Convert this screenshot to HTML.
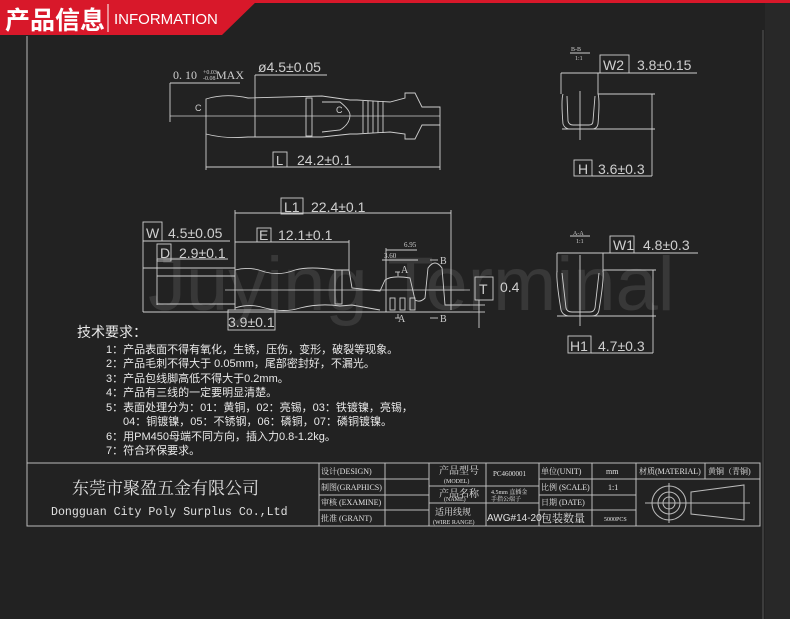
<!DOCTYPE html>
<html><head><meta charset="utf-8"><style>
html,body{margin:0;padding:0;background:#222;}
svg{display:block}
text{font-family:"Liberation Sans","Noto Sans CJK SC",sans-serif;}
.s{font-family:"Liberation Serif","Noto Serif CJK SC",serif;}
.m{font-family:"Liberation Mono","Noto Sans CJK SC",monospace;}
</style></head><body>
<svg width="790" height="619" viewBox="0 0 790 619" xmlns="http://www.w3.org/2000/svg">
<rect width="790" height="619" fill="#222"/>
<rect x="765" y="0" width="25" height="619" fill="#282828"/>
<rect x="0" y="0" width="790" height="3" fill="#d8182a"/>
<polygon points="0,0 258,0 222,35 0,35" fill="#d8182a"/>
<line x1="108" y1="4" x2="108" y2="32" stroke="#fff" stroke-width="1"/>
<text x="5" y="29" font-size="25" font-weight="bold" fill="#fff">产品信息</text>
<text x="114" y="24" font-size="15" fill="#fff">INFORMATION</text>
<g stroke="#bbb" fill="none" stroke-width="1">
<line x1="27" y1="36" x2="27" y2="526"/>
<line x1="763" y1="30" x2="763" y2="619" stroke="#555"/>
</g>
<text x="148" y="310" font-size="76" fill="#fff" fill-opacity="0.1">Juying Terminal</text>

<g stroke="#cfcfcf" fill="none" stroke-width="0.9">
<line x1="170" y1="83" x2="240" y2="83"/>
<line x1="170" y1="83" x2="170" y2="122"/>
<line x1="170" y1="116" x2="440" y2="116" stroke-width="0.8"/>
<line x1="255" y1="75" x2="327" y2="75"/>
<line x1="255" y1="75" x2="255" y2="98"/>
<path d="M206,99 Q225,93 248,98 L322,96 L350,100 L357,100 L390,102 L405,98 L405,93 L415,93 L422,107 L440,107 L440,125 L422,125 L415,139 L405,139 L405,134 L390,132 L357,134 L350,134 L322,137 L248,137 Q225,139 206,134 Z"/>
<line x1="255" y1="98" x2="255" y2="137"/>
<rect x="306" y="98" width="6" height="38"/>
<path d="M322,102 L340,102 Q350,110 350,115 Q350,124 340,130 L322,132"/>
<line x1="363" y1="101" x2="363" y2="133"/><line x1="368" y1="101" x2="368" y2="133"/><line x1="373" y1="101" x2="373" y2="133"/><line x1="378" y1="101" x2="378" y2="133"/><line x1="383" y1="101" x2="383" y2="133"/>
<line x1="206" y1="134" x2="206" y2="170"/>
<line x1="440" y1="125" x2="440" y2="170"/>
<line x1="206" y1="167" x2="440" y2="167"/>
<rect x="273" y="152" width="14" height="15"/>

<line x1="235" y1="213" x2="451" y2="213"/>
<rect x="281" y="198" width="22" height="16"/>
<line x1="451" y1="210" x2="451" y2="310"/>
<line x1="235" y1="210" x2="235" y2="310"/>
<rect x="143" y="222" width="19" height="19"/>
<line x1="143" y1="241" x2="230" y2="241"/>
<rect x="257" y="228" width="14" height="14"/>
<line x1="235" y1="242" x2="349" y2="242"/>
<line x1="349" y1="240" x2="349" y2="270"/>
<rect x="157" y="244" width="14" height="17"/>
<line x1="157" y1="259" x2="228" y2="259"/>
<line x1="143" y1="268" x2="235" y2="268"/>
<line x1="157" y1="276" x2="235" y2="276"/>
<line x1="157" y1="304" x2="235" y2="304"/>
<line x1="143" y1="312" x2="470" y2="312"/>
<line x1="157" y1="259" x2="157" y2="305"/>
<line x1="143" y1="241" x2="143" y2="312"/>
<line x1="225" y1="290" x2="470" y2="290" stroke-width="0.8"/>
<path d="M235,270 Q250,266 265,272 Q280,276 295,270 Q310,266 335,270 L349,270 L352,288 L380,291 L385,280 Q392,275 410,278 L415,300 Q420,303 425,298 L428,268 Q435,258 442,268 L445,305 L470,305"/>
<path d="M235,308 Q250,303 265,308 Q285,313 300,308 Q320,303 340,306 L352,305 L380,310"/>
<rect x="335" y="270" width="7" height="34"/>
<rect x="390" y="298" width="5" height="12"/><rect x="400" y="298" width="5" height="12"/><rect x="410" y="298" width="5" height="12"/>
<line x1="386" y1="250" x2="417" y2="250"/><line x1="382" y1="260" x2="418" y2="260"/>
<line x1="386" y1="248" x2="386" y2="312"/>
<line x1="398" y1="272" x2="398" y2="276"/><line x1="395" y1="272" x2="400" y2="272"/>
<line x1="398" y1="314" x2="398" y2="318"/><line x1="395" y1="318" x2="400" y2="318"/>
<line x1="430" y1="260" x2="438" y2="260"/><line x1="430" y1="318" x2="438" y2="318"/>
<rect x="228" y="310" width="47" height="20"/>
<rect x="475" y="277" width="18" height="23"/>
<line x1="479" y1="300" x2="479" y2="328"/>
<line x1="470" y1="305" x2="485" y2="305"/><line x1="470" y1="312" x2="485" y2="312"/>

<line x1="570" y1="53" x2="590" y2="53"/>
<rect x="600" y="55" width="29" height="18"/>
<line x1="561" y1="73" x2="697" y2="73"/>
<line x1="561" y1="73" x2="561" y2="94"/><line x1="598" y1="73" x2="598" y2="94"/>
<path d="M563,94 Q561,100 563,124 Q565,129 570,129 L592,129 Q597,129 598,124 Q600,100 598,94"/>
<path d="M567,96 L568,121 Q569,125 573,125 L589,125 Q593,125 593,121 L595,96"/>
<line x1="580" y1="91" x2="580" y2="140"/>
<line x1="598" y1="94" x2="655" y2="94"/><line x1="562" y1="129" x2="655" y2="129"/>
<line x1="652" y1="94" x2="652" y2="176"/>
<rect x="574" y="160" width="18" height="16"/>
<line x1="592" y1="176" x2="652" y2="176"/>
<line x1="570" y1="236" x2="590" y2="236"/>
<rect x="610" y="236" width="24" height="17"/>
<line x1="557" y1="253" x2="698" y2="253"/>
<line x1="557" y1="253" x2="557" y2="272"/><line x1="603" y1="253" x2="603" y2="272"/>
<path d="M557,271 Q556,280 561,310 Q563,316 570,316 L592,316 Q598,316 599,310 Q604,280 603,271"/>
<path d="M562,273 L566,308 Q567,312 572,312 L590,312 Q594,312 595,308 L599,273"/>
<line x1="580" y1="255" x2="580" y2="326"/>
<line x1="603" y1="270" x2="656" y2="270"/><line x1="557" y1="316" x2="656" y2="316"/>
<line x1="653" y1="270" x2="653" y2="353"/>
<rect x="568" y="336" width="23" height="17"/>
<line x1="591" y1="353" x2="653" y2="353"/>
</g>

<g fill="#cfcfcf">
<text class="s" x="173" y="79" font-size="12">0. 10</text>
<text class="s" x="203" y="74" font-size="6">+0.03</text>
<text class="s" x="203" y="80" font-size="6">-0.08</text>
<text class="s" x="216" y="79" font-size="12">MAX</text>
<text x="195" y="111" font-size="9">C</text>
<text x="336" y="113" font-size="9">C</text>
<text x="258" y="72" font-size="14">ø4.5±0.05</text>
<text x="276" y="165" font-size="13">L</text>
<text x="297" y="165" font-size="14">24.2±0.1</text>
<text x="284" y="212" font-size="14">L1</text>
<text x="311" y="212" font-size="14">22.4±0.1</text>
<text x="146" y="238" font-size="14">W</text>
<text x="168" y="238" font-size="14">4.5±0.05</text>
<text x="259" y="240" font-size="14">E</text>
<text x="278" y="240" font-size="14">12.1±0.1</text>
<text x="160" y="258" font-size="14">D</text>
<text x="179" y="258" font-size="14">2.9±0.1</text>
<text x="228" y="327" font-size="14">3.9±0.1</text>
<text class="s" x="404" y="247" font-size="7">6.95</text>
<text class="s" x="384" y="258" font-size="7">3.60</text>
<text class="s" x="401" y="273" font-size="10">A</text>
<text class="s" x="398" y="322" font-size="10">A</text>
<text class="s" x="440" y="264" font-size="10">B</text>
<text class="s" x="440" y="322" font-size="10">B</text>
<text x="479" y="294" font-size="14">T</text>
<text x="500" y="292" font-size="14">0.4</text>
<text class="s" x="571" y="51" font-size="6">B-B</text>
<text class="s" x="575" y="60" font-size="6">1:1</text>
<text x="603" y="70" font-size="14">W2</text>
<text x="637" y="70" font-size="14">3.8±0.15</text>
<text x="578" y="174" font-size="14">H</text>
<text x="598" y="174" font-size="14">3.6±0.3</text>
<text class="s" x="573" y="235" font-size="6">A-A</text>
<text class="s" x="576" y="243" font-size="6">1:1</text>
<text x="613" y="250" font-size="14">W1</text>
<text x="643" y="250" font-size="14">4.8±0.3</text>
<text x="570" y="351" font-size="14">H1</text>
<text x="598" y="351" font-size="14">4.7±0.3</text>
</g>

<g fill="#e8e8e8" font-size="11">
<text x="77" y="337" font-size="14">技术要求：</text>
<text x="106" y="353">1：产品表面不得有氧化，生锈，压伤，变形，破裂等现象。</text>
<text x="106" y="367">2：产品毛刺不得大于 0.05mm，尾部密封好，不漏光。</text>
<text x="106" y="382">3：产品包线脚高低不得大于0.2mm。</text>
<text x="106" y="396">4：产品有三线的一定要明显清楚。</text>
<text x="106" y="411">5：表面处理分为：01：黄铜，02：亮锡，03：铁镀镍，亮锡，</text>
<text x="123" y="425">04：铜镀镍，05：不锈钢，06：磷铜，07：磷铜镀镍。</text>
<text x="106" y="440">6：用PM450母端不同方向，插入力0.8-1.2kg。</text>
<text x="106" y="454">7：符合环保要求。</text>
</g>

<g stroke="#bbb" fill="none" stroke-width="1">
<rect x="27" y="463" width="733" height="63"/>
<line x1="319" y1="463" x2="319" y2="526"/>
<line x1="385" y1="463" x2="385" y2="526"/>
<line x1="429" y1="463" x2="429" y2="526"/>
<line x1="486" y1="463" x2="486" y2="526"/>
<line x1="539" y1="463" x2="539" y2="526"/>
<line x1="592" y1="463" x2="592" y2="526"/>
<line x1="636" y1="463" x2="636" y2="526"/>
<line x1="705" y1="463" x2="705" y2="479"/>
<line x1="319" y1="479" x2="429" y2="479"/>
<line x1="319" y1="495" x2="429" y2="495"/>
<line x1="319" y1="510" x2="429" y2="510"/>
<line x1="429" y1="486" x2="539" y2="486"/>
<line x1="429" y1="503" x2="539" y2="503"/>
<line x1="539" y1="479" x2="760" y2="479"/>
<line x1="539" y1="495" x2="636" y2="495"/>
<line x1="539" y1="510" x2="636" y2="510"/>
<circle cx="669" cy="503" r="17"/><circle cx="669" cy="503" r="11"/><circle cx="669" cy="503" r="6"/>
<line x1="645" y1="503" x2="750" y2="503"/>
<line x1="669" y1="483" x2="669" y2="523"/>
<path d="M691,492 L744,485 L744,520 L691,514 Z"/>
</g>
<g fill="#e0e0e0">
<text class="s" x="72" y="494" font-size="17">东莞市聚盈五金有限公司</text>
<text class="m" x="51" y="515" font-size="11.6">Dongguan City Poly Surplus Co.,Ltd</text>
<text class="s" font-size="8" x="321" y="474">设计(DESIGN)</text>
<text class="s" font-size="8" x="321" y="490">制图(GRAPHICS)</text>
<text class="s" font-size="8" x="321" y="505">审核 (EXAMINE)</text>
<text class="s" font-size="8" x="321" y="521">批准 (GRANT)</text>
<text class="s" font-size="10" x="439" y="474">产品型号</text>
<text class="s" font-size="6" x="444" y="483">(MODEL)</text>
<text class="s" font-size="10" x="439" y="497">产品名称</text>
<text class="s" font-size="6" x="444" y="501">(NAME)</text>
<text class="s" font-size="9" x="435" y="515">适用线规</text>
<text class="s" font-size="6" x="433" y="524">(WIRE RANGE)</text>
<text class="s" font-size="7" x="493" y="476">PC4600001</text>
<text class="s" font-size="6" x="491" y="494">4.5mm 直插金</text>
<text class="s" font-size="6" x="491" y="501">手指公端子</text>
<text x="487" y="521" font-size="10">AWG#14-20</text>
<text class="s" font-size="8" x="541" y="474">单位(UNIT)</text>
<text class="s" font-size="8" x="541" y="490">比例 (SCALE)</text>
<text class="s" font-size="8" x="541" y="505">日期 (DATE)</text>
<text class="s" font-size="11" x="541" y="522">包装数量</text>
<text class="s" font-size="8" x="606" y="474">mm</text>
<text class="s" font-size="8" x="608" y="490">1:1</text>
<text class="s" font-size="6" x="604" y="521">5000PCS</text>
<text class="s" font-size="8" x="639" y="474">材质(MATERIAL)</text>
<text class="s" font-size="8" x="708" y="474">黄铜（青铜)</text>
</g>
</svg>
</body></html>
